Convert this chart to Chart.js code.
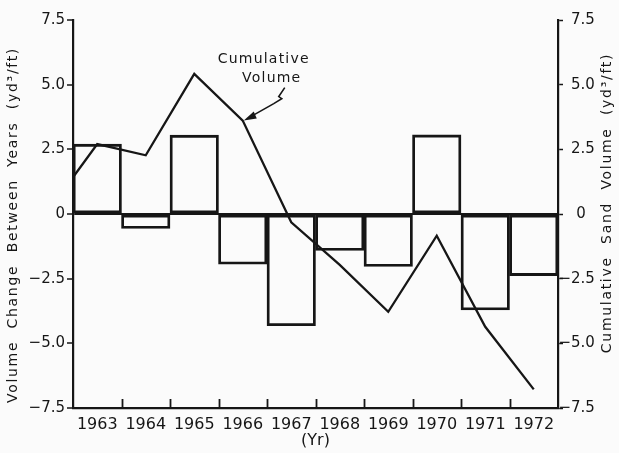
<!DOCTYPE html>
<html>
<head>
<meta charset="utf-8">
<script src="https://cdn.jsdelivr.net/npm/chart.js@4/dist/chart.umd.min.js"></script>
<style>
  html, body { margin: 0; padding: 0; background: #fbfbfb; }
  #wrap { width: 619px; height: 453px; position: relative; }
</style>
</head>
<body>
<div id="wrap"><canvas id="chart"></canvas></div>
<script>
// 年份 / 年间体积变化（柱）/ 累计体积（折线）
const years = ['1963', '1964', '1965', '1966', '1967', '1968', '1969', '1970', '1971', '1972'];
const changeBetweenYears = [2.70, -0.56, 3.05, -1.94, -4.32, -1.41, -2.03, 3.06, -3.71, -2.38];
const cumulativeYears = [1962.5, 1963, 1964, 1965, 1966, 1967, 1968, 1969, 1970, 1971, 1972];
const cumulativeVolume = [1.42, 2.70, 2.27, 5.42, 3.61, -0.32, -1.97, -3.78, -0.84, -4.36, -6.78];
const yTicks = [-7.5, -5.0, -2.5, 0, 2.5, 5.0, 7.5];

const INK = '#161616';
const FONT = "'DejaVu Sans', sans-serif";

const fmtTick = (v) => (v === 0 ? '0' : (v < 0 ? '\u2212' : '') + Math.abs(v).toFixed(1));

// 标注、竖排轴标题、朝内的 x 刻度、右轴刻度文字（负号悬挂）
const decorations = {
  id: 'decorations',
  afterDraw(chart) {
    const { ctx, chartArea, scales } = chart;
    const xs = scales.xYear, y = scales.y, y2 = scales.y2;
    ctx.save();
    ctx.strokeStyle = INK;
    ctx.fillStyle = INK;

    // x 轴刻度（向上）
    ctx.lineWidth = 1.8;
    for (let i = 1; i < years.length; i++) {
      const px = Math.round(xs.getPixelForValue(1962.5 + i)) + 0.5;
      ctx.beginPath();
      ctx.moveTo(px, chartArea.bottom);
      ctx.lineTo(px, chartArea.bottom - 9);
      ctx.stroke();
    }

    // 右轴刻度文字
    ctx.font = '15px ' + FONT;
    ctx.textBaseline = 'middle';
    const lx = chartArea.right + 13;
    for (const v of yTicks) {
      const py = y2.getPixelForValue(v);
      if (v === 0) {
        ctx.textAlign = 'center';
        ctx.fillText('0', lx + 10, py);
        continue;
      }
      ctx.textAlign = 'left';
      ctx.fillText(Math.abs(v).toFixed(1), lx, py);
      if (v < 0) {
        ctx.textAlign = 'right';
        ctx.fillText('\u2212', lx, py);
      }
    }

    // 竖排标题
    ctx.font = '14px ' + FONT;
    ctx.letterSpacing = '1.7px';
    ctx.textAlign = 'center';
    ctx.textBaseline = 'middle';
    ctx.save();
    ctx.translate(13, 225);
    ctx.rotate(-Math.PI / 2);
    ctx.fillText('Volume  Change  Between  Years  (yd\u00B3/ft)', 0, 0);
    ctx.restore();
    ctx.save();
    ctx.translate(607, 203);
    ctx.rotate(-Math.PI / 2);
    ctx.fillText('Cumulative  Sand  Volume  (yd\u00B3/ft)', 0, 0);
    ctx.restore();

    // Cumulative Volume 标注
    const ax = xs.getPixelForValue(1966);
    const ay = y.getPixelForValue(3.61);
    ctx.letterSpacing = '1.2px';
    ctx.fillText('Cumulative', ax + 21, ay - 61);
    ctx.fillText('Volume', ax + 29, ay - 42);

    ctx.lineWidth = 1.6;
    ctx.beginPath();
    ctx.moveTo(ax + 42, ay - 33);
    ctx.lineTo(ax + 36, ay - 24);
    ctx.lineTo(ax + 39, ay - 22);
    ctx.lineTo(ax + 31, ay - 17);
    ctx.lineTo(ax + 8, ay - 4);
    ctx.stroke();
    ctx.beginPath();
    ctx.moveTo(ax + 1, ay);
    ctx.lineTo(ax + 11, ay - 9);
    ctx.lineTo(ax + 14, ay - 2);
    ctx.closePath();
    ctx.fill();

    ctx.restore();
  }
};

new Chart(document.getElementById('chart'), {
  data: {
    labels: years,
    datasets: [
      {
        type: 'bar',
        data: changeBetweenYears,
        xAxisID: 'x',
        yAxisID: 'y',
        backgroundColor: 'rgba(0,0,0,0)',
        borderColor: INK,
        borderWidth: 2.2,
        borderSkipped: false,
        grouped: false,
        barPercentage: 1,
        categoryPercentage: 1,
      },
      {
        type: 'line',
        data: cumulativeYears.map((yr, i) => ({ x: yr, y: cumulativeVolume[i] })),
        xAxisID: 'xYear',
        yAxisID: 'y',
        borderColor: INK,
        borderWidth: 2.3,
        pointRadius: 0,
        fill: false,
        tension: 0,
      },
    ],
  },
  options: {
    responsive: true,
    maintainAspectRatio: false,
    animation: false,
    layout: { padding: { top: 20, left: 0, right: 0, bottom: 0 } },
    plugins: { legend: { display: false }, tooltip: { enabled: false } },
    scales: {
      x: {
        type: 'category',
        offset: true,
        grid: { offset: true, drawOnChartArea: false, drawTicks: false },
        border: { color: INK, width: 2.2 },
        ticks: { color: INK, font: { family: FONT, size: 16 }, padding: 7, maxRotation: 0, autoSkip: false },
        title: { display: true, text: '(Yr)', color: INK, font: { family: FONT, size: 16 }, padding: { top: 0, bottom: 3 } },
        afterFit: (s) => { s.height = 45; },
      },
      xYear: { type: 'linear', display: false, min: 1962.5, max: 1972.5 },
      y: {
        position: 'left',
        min: -7.5,
        max: 7.5,
        afterBuildTicks: (s) => { s.ticks = yTicks.map((v) => ({ value: v })); },
        ticks: { color: INK, font: { family: FONT, size: 15 }, padding: 2, callback: fmtTick },
        grid: {
          color: (c) => (c.tick && c.tick.value === 0 ? INK : 'rgba(0,0,0,0)'),
          lineWidth: 2,
          tickColor: INK,
          tickLength: 6,
          tickWidth: 1.5,
        },
        border: { display: true, color: INK, width: 2.2 },
        afterFit: (s) => { s.width = 73; },
      },
      y2: {
        position: 'right',
        min: -7.5,
        max: 7.5,
        afterBuildTicks: (s) => { s.ticks = yTicks.map((v) => ({ value: v })); },
        ticks: { display: false },
        grid: { drawOnChartArea: false, tickColor: INK, tickLength: 5, tickWidth: 1.5 },
        border: { display: true, color: INK, width: 2.2 },
        afterFit: (s) => { s.width = 61; },
      },
    },
  },
  plugins: [decorations],
});
</script>
</body>
</html>
